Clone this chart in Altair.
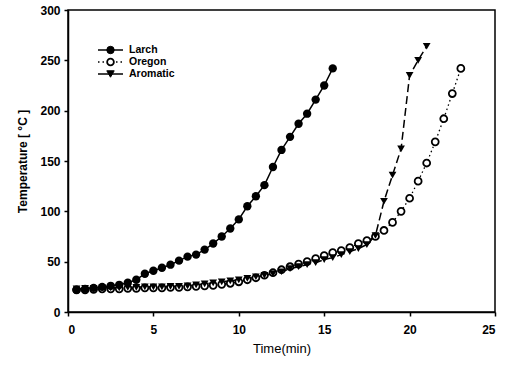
import altair as alt
import pandas as pd

larch_t = [0.5, 1, 1.5, 2, 2.5, 3, 3.5, 4, 4.5, 5, 5.5, 6, 6.5, 7, 7.5, 8, 8.5, 9, 9.5, 10,
           10.5, 11, 11.5, 12, 12.5, 13, 13.5, 14, 14.5, 15, 15.5]
larch_v = [22, 23, 24, 25, 26, 27, 29, 32, 38, 41, 44, 47, 51, 55, 57, 62, 68, 75, 83, 92,
           105, 115, 126, 144, 161, 174, 187, 197, 211, 225, 242]

oregon_t = [0.5, 1, 1.5, 2, 2.5, 3, 3.5, 4, 4.5, 5, 5.5, 6, 6.5, 7, 7.5, 8, 8.5, 9, 9.5, 10,
            10.5, 11, 11.5, 12, 12.5, 13, 13.5, 14, 14.5, 15, 15.5, 16, 16.5, 17, 17.5, 18,
            18.5, 19, 19.5, 20, 20.5, 21, 21.5, 22, 22.5, 23]
oregon_v = [22, 22, 22.5, 23, 23, 23, 23.5, 23.5, 24, 24, 24, 24.5, 24.5, 25, 25.5, 26, 26.5,
            27.5, 28.5, 30, 32, 34, 36.5, 39, 42, 45, 47.5, 50, 53, 56, 59, 61, 64, 68, 71, 75,
            81, 89, 100, 113, 130, 148, 169, 192, 217, 242]

aromatic_t = [0.5, 1, 1.5, 2, 2.5, 3, 3.5, 4, 4.5, 5, 5.5, 6, 6.5, 7, 7.5, 8, 8.5, 9, 9.5, 10,
              10.5, 11, 11.5, 12, 12.5, 13, 13.5, 14, 14.5, 15, 15.5, 16, 16.5, 17, 17.5, 18,
              18.5, 19, 19.5, 20, 20.5, 21]
aromatic_v = [23, 23.5, 23.5, 24, 24, 24, 24.5, 24.5, 25, 25, 25, 25.5, 25.5, 26, 27, 28, 29,
              30, 31, 32, 33.5, 35, 36.5, 38, 40, 43, 45, 47, 49, 52, 54, 57, 60, 63, 67, 76,
              110, 136, 162, 235, 250, 264]

series_names = ["Larch", "Oregon", "Aromatic"]
x_ticks = [0, 5, 10, 15, 20, 25]
y_ticks = [0, 50, 100, 150, 200, 250, 300]

FONT = "Liberation Sans"

def frame(name, t, v):
    return pd.DataFrame({"series": name, "time": t, "temp": v})

df_l = frame("Larch", larch_t, larch_v)
df_o = frame("Oregon", oregon_t, oregon_v)
df_a = frame("Aromatic", aromatic_t, aromatic_v)

xs = alt.Scale(domain=[0, 25], nice=False, zero=False)
ys = alt.Scale(domain=[0, 300], nice=False)

xenc = alt.X("time:Q", scale=xs, title="Time(min)",
             axis=alt.Axis(values=x_ticks, labelFont=FONT, labelFontWeight="bold", labelFontSize=12,
                           titleFont=FONT, titleFontWeight="normal", titleFontSize=13,
                           tickSize=4, tickColor="black", domainColor="black", labelColor="black",
                           titleColor="black", grid=False, labelPadding=8, titlePadding=7,
                           domainWidth=1.5, tickWidth=1.5))
yenc = alt.Y("temp:Q", scale=ys, title="Temperature [ °C ]",
             axis=alt.Axis(values=y_ticks, labelFont=FONT, labelFontWeight="bold", labelFontSize=12,
                           titleFont=FONT, titleFontWeight="bold", titleFontSize=12,
                           tickSize=4, tickColor="black", domainColor="black", labelColor="black",
                           titleColor="black", grid=False, labelPadding=4, titlePadding=10,
                           domainWidth=1.5, tickWidth=1.5))

base_l = alt.Chart(df_l).encode(x=xenc, y=yenc)
base_o = alt.Chart(df_o).encode(x=xenc, y=yenc)
base_a = alt.Chart(df_a).encode(x=xenc, y=yenc)

line_l = base_l.mark_line(color="black", strokeWidth=1.5)
pts_l = base_l.mark_point(shape="circle", filled=True, color="black", size=70, opacity=1)
line_o = base_o.mark_line(color="black", strokeWidth=1.3, strokeDash=[1.5, 3])
pts_o = base_o.mark_point(shape="circle", filled=True, fill="white", stroke="black",
                          strokeWidth=1.8, size=48, opacity=1)
line_a = base_a.mark_line(color="black", strokeWidth=1.5, strokeDash=[8, 4])
pts_a = base_a.mark_point(shape="triangle-down", filled=True, color="black", size=60, opacity=1)

leg_y = {"Larch": 40, "Oregon": 52, "Aromatic": 64}

def leg_row(name, dash, shape, fill):
    d = pd.DataFrame({"series": [name]})
    y = leg_y[name]
    kw = {"color": "black", "strokeWidth": 1.5}
    if dash:
        kw["strokeDash"] = dash
    rule = alt.Chart(d).mark_rule(**kw).encode(x=alt.value(30), x2=alt.value(55), y=alt.value(y))
    pt = alt.Chart(d).mark_point(shape=shape, filled=True, fill=fill, stroke="black",
                                 strokeWidth=1.8 if fill == "white" else 1,
                                 size=45 if fill == "white" else 55,
                                 opacity=1).encode(x=alt.value(42.5), y=alt.value(y))
    txt = alt.Chart(d).mark_text(align="left", baseline="middle", font=FONT, fontWeight="bold",
                                 fontSize=10.5, color="black").encode(
        x=alt.value(61), y=alt.value(y), text="series:N")
    return rule + pt + txt

legend = (leg_row("Larch", None, "circle", "black")
          + leg_row("Oregon", [1.5, 3], "circle", "white")
          + leg_row("Aromatic", None, "triangle-down", "black"))

chart = alt.layer(line_l, line_o, line_a, pts_o, pts_a, pts_l, legend).properties(
    width=427, height=302,
    autosize=alt.AutoSizeParams(type="none"),
    padding={"left": 68, "top": 10, "right": 13, "bottom": 54},
    background="white",
).configure_view(stroke="black", strokeWidth=1.5)

chart.save("out.html", embed_options={"renderer": "svg", "actions": False})
